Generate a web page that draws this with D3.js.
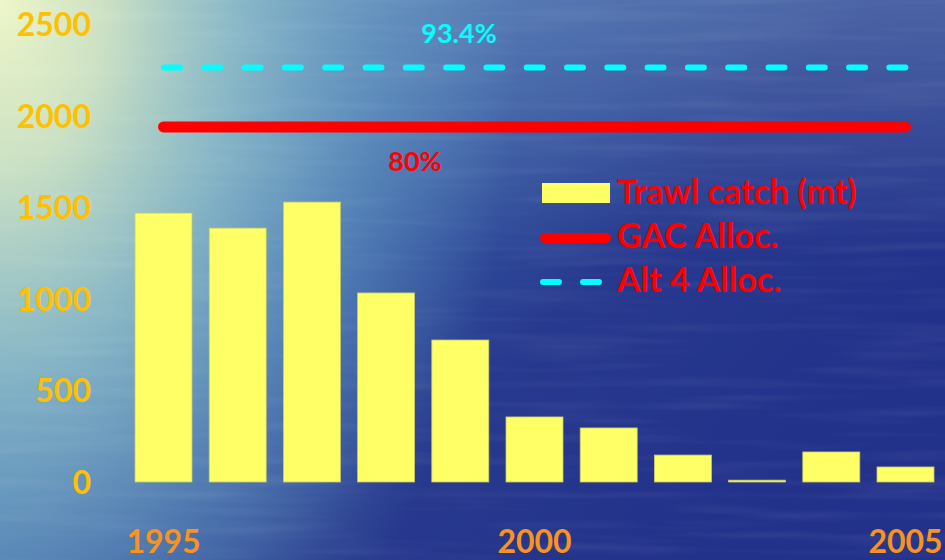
<!DOCTYPE html>
<html><head><meta charset="utf-8">
<script src="https://cdn.jsdelivr.net/npm/d3@7/dist/d3.min.js"></script>
<style>html,body{margin:0;padding:0;overflow:hidden;background:#22338a}</style>
</head><body>
<svg id="chart" width="945" height="560"></svg>
<script>
const years = [1995,1996,1997,1998,1999,2000,2001,2002,2003,2004,2005];
const trawlCatch = [1468,1386,1528,1032,775,355,295,147,10,164,82];
const gacAlloc = 1938;
const alt4Alloc = 2263;
const yTicks = [0,500,1000,1500,2000,2500];
const xTickLabels = [1995,2000,2005];
const legendLabels = ["Trawl catch (mt)","GAC Alloc.","Alt 4 Alloc."];
const lineLabels = ["93.4%","80%"];

const W=945,H=560;
const svg=d3.select("#chart");
const defs=svg.append("defs");
const base=defs.append("linearGradient").attr("id","base").attr("x1",0).attr("y1",0).attr("x2",1).attr("y2",0.6);
[[0,"#4c8ac8"],[0.4,"#3b64ab"],[0.68,"#27398e"],[1,"#22318a"]].forEach(s=>base.append("stop").attr("offset",s[0]).attr("stop-color",s[1]));
const topG=defs.append("linearGradient").attr("id","topg").attr("x1",0).attr("y1",0).attr("x2",0).attr("y2",1);
[[0,"#6a88b8",0.55],[0.45,"#6a88b8",0]].forEach(s=>topG.append("stop").attr("offset",s[0]).attr("stop-color",s[1]).attr("stop-opacity",s[2]));
const glow=defs.append("radialGradient").attr("id","glow").attr("gradientUnits","userSpaceOnUse")
  .attr("cx",0).attr("cy",0).attr("r",520).attr("gradientTransform","scale(1,1.6)");
[[0,"#eef6c8",1],[0.2,"#d2e6c4",0.95],[0.45,"#9ccccc",0.75],[0.75,"#78b4cc",0.35],[1,"#78b4cc",0]].forEach(s=>glow.append("stop").attr("offset",s[0]).attr("stop-color",s[1]).attr("stop-opacity",s[2]));
const tex=defs.append("filter").attr("id","tex").attr("x",0).attr("y",0).attr("width","100%").attr("height","100%");
tex.append("feTurbulence").attr("type","fractalNoise").attr("baseFrequency","0.006 0.09").attr("numOctaves",2).attr("seed",3);
tex.append("feColorMatrix").attr("type","matrix").attr("values","0 0 0 0 1  0 0 0 0 1  0 0 0 0 1  1.2 0 0 0 -0.55");
svg.append("rect").attr("width",W).attr("height",H).attr("fill","url(#base)");
svg.append("rect").attr("width",W).attr("height",H).attr("fill","url(#topg)");
svg.append("rect").attr("width",W).attr("height",H).attr("fill","url(#glow)");
svg.append("rect").attr("width",W).attr("height",H).attr("filter","url(#tex)").attr("opacity",0.12);

const x=d3.scaleBand().domain(years).range([126.4,942.6]).paddingInner(0.232).paddingOuter(0.116);
const y=d3.scaleLinear().domain([0,2500]).range([482,24]);

const font="Lato, 'Open Sans', sans-serif";

// y axis
const yAxis=svg.append("g").attr("transform","translate(91,0)")
  .call(d3.axisLeft(y).tickValues(yTicks).tickFormat(d3.format("d")).tickSize(0).tickPadding(0));
yAxis.select(".domain").remove();
yAxis.selectAll("text").attr("fill","#FFC000").attr("font-family",font).attr("font-weight","bold").attr("font-size",32).attr("dy","0.36em");

// x axis
const xAxis=svg.append("g").attr("transform","translate(0,553)")
  .call(d3.axisBottom(x).tickValues(xTickLabels).tickSize(0).tickPadding(0));
xAxis.select(".domain").remove();
xAxis.selectAll("text").attr("fill","#F7931E").attr("font-family",font).attr("font-weight","bold").attr("font-size",32).attr("dy",0);

// bars
svg.append("g").selectAll("rect").data(years).join("rect")
  .attr("x",d=>x(d)).attr("width",x.bandwidth())
  .attr("y",(d,i)=>y(trawlCatch[i])).attr("height",(d,i)=>y(0)-y(trawlCatch[i]))
  .attr("fill","#FFFF66").attr("stroke","#c8c86a").attr("stroke-width",0.8);

const x0=x(years[0])+x.bandwidth()/2, x1=x(years[years.length-1])+x.bandwidth()/2;
// GAC line
svg.append("line").attr("x1",x0).attr("x2",x1).attr("y1",y(gacAlloc)).attr("y2",y(gacAlloc))
  .attr("stroke","#FF0000").attr("stroke-width",11).attr("stroke-linecap","round");
// Alt 4 line
svg.append("line").attr("x1",x0+0.5).attr("x2",x1).attr("y1",y(alt4Alloc)).attr("y2",y(alt4Alloc))
  .attr("stroke","#00FFFF").attr("stroke-width",6).attr("stroke-linecap","round").attr("stroke-dasharray","16 24.3");

svg.append("text").attr("x",459).attr("y",43).attr("text-anchor","middle").attr("fill","#00FFFF")
  .attr("font-family",font).attr("font-weight","bold").attr("font-size",27).text(lineLabels[0]);
svg.append("text").attr("x",415).attr("y",171).attr("text-anchor","middle").attr("fill","#FF0000")
  .attr("font-family",font).attr("font-weight","bold").attr("font-size",27).text(lineLabels[1]);

// legend
const lg=svg.append("g");
lg.append("rect").attr("x",542).attr("y",183).attr("width",68).attr("height",20).attr("fill","#FFFF66");
lg.append("line").attr("x1",545).attr("x2",606).attr("y1",238).attr("y2",238).attr("stroke","#FF0000").attr("stroke-width",10).attr("stroke-linecap","round");
lg.append("line").attr("x1",543).attr("x2",600).attr("y1",282).attr("y2",282).attr("stroke","#00FFFF").attr("stroke-width",6).attr("stroke-linecap","round").attr("stroke-dasharray","16 24");
const ly=[204,248,292];
legendLabels.forEach((t,i)=>lg.append("text").attr("x",617).attr("y",ly[i]).attr("fill","#FF0000")
  .attr("font-family",font).attr("font-weight","bold").attr("font-size",34).text(t));
</script>
</body></html>
